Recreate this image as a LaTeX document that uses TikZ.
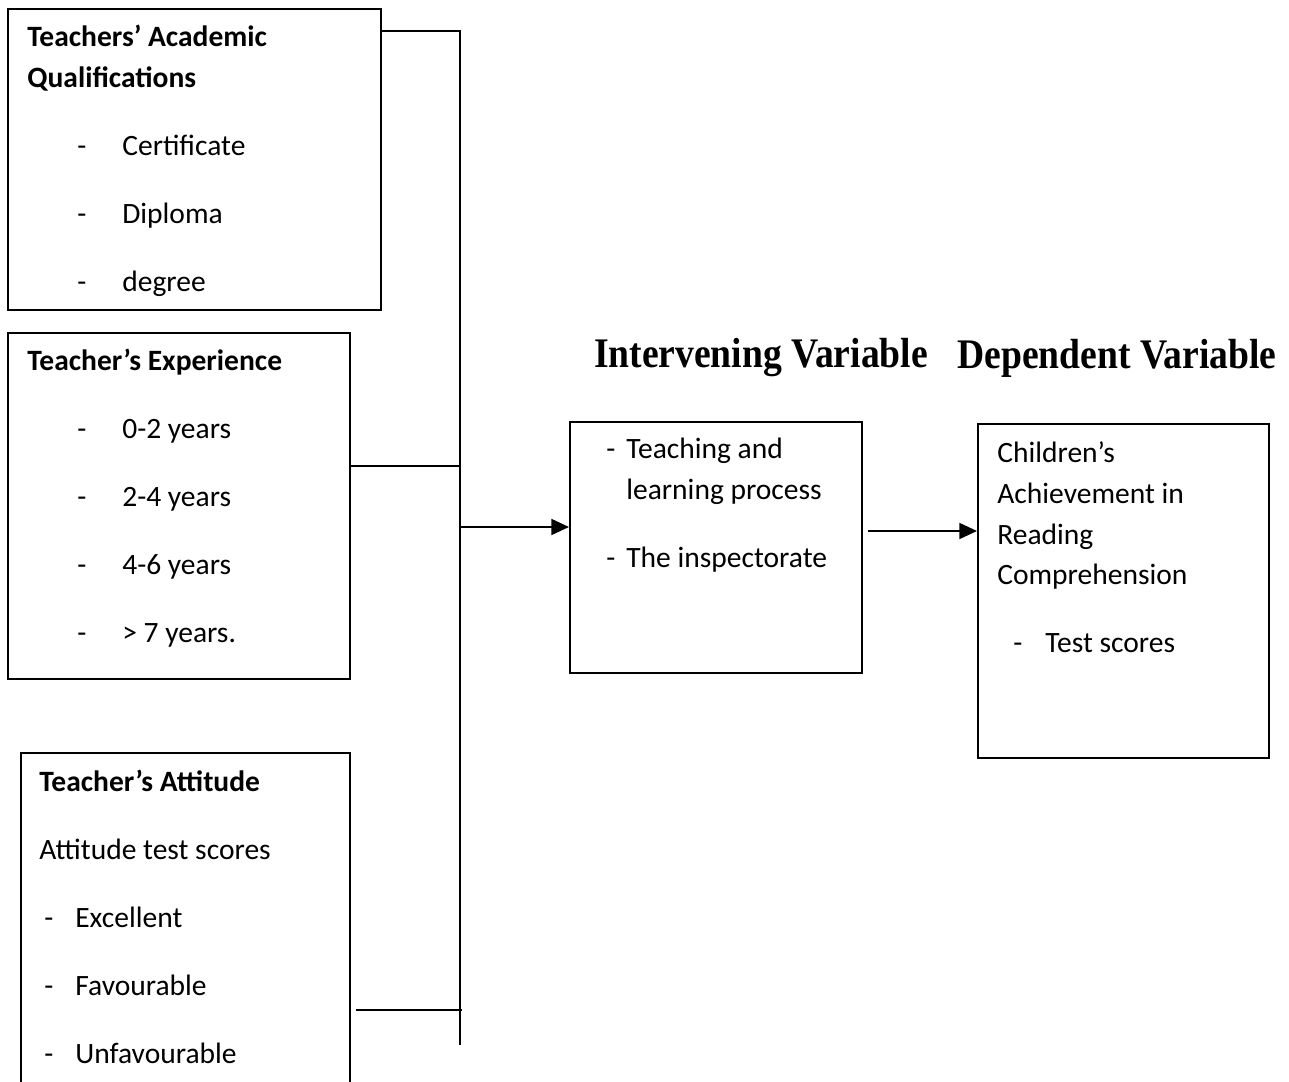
\documentclass[tikz,border=0pt]{standalone}
\usepackage{fontspec}
\setmainfont{Carlito}
\newfontfamily\headfont{Liberation Serif}
\usetikzlibrary{arrows.meta,positioning,calc}

\newcommand{\itm}[1]{\hspace*{1cm}\makebox[0.9cm][l]{-}#1}

\begin{document}
\begin{tikzpicture}[
        x=0.02cm, y=-0.02cm,
        every node/.style={font=\fontsize{16.8}{23.3}\selectfont},
        box/.style={rectangle, draw, line width=1.2pt, anchor=north west, inner sep=0pt},
        txt/.style={anchor=north west, align=left, inner sep=0pt},
        head/.style={font=\headfont\bfseries\fontsize{21.4}{25}\selectfont},
        arr/.style={-{Triangle[length=10pt,width=9pt]}, line width=1.2pt},
        link/.style={line width=1.2pt}
    ]
        \useasboundingbox (0,0) rectangle (1289,1082);

        % independent variables
        \node[box, minimum width=7.46cm, minimum height=6.02cm] (qual) at (7,8) {};
        \node[txt] (qualtxt) at (27,25) {\textbf{Teachers’ Academic}\\
            \textbf{Qualifications}\\[15.3pt]
            \itm{Certificate}\\[15.3pt]
            \itm{Diploma}\\[15.3pt]
            \itm{degree}};

        \node[box, minimum width=6.84cm, minimum height=6.92cm] (exper) at (7,332) {};
        \node[txt] (expertxt) at (27,349) {\textbf{Teacher’s Experience}\\[15.3pt]
            \itm{0-2 years}\\[15.3pt]
            \itm{2-4 years}\\[15.3pt]
            \itm{4-6 years}\\[15.3pt]
            \itm{> 7 years.}};

        \node[box, minimum width=6.58cm, minimum height=6.9cm] (attit) at (20,752) {};
        \node[txt] (attittxt) at (39,770) {\textbf{Teacher’s Attitude}\\[15.3pt]
            Attitude test scores\\[15.3pt]
            \hspace*{0.1cm}\makebox[0.62cm][l]{-}Excellent\\[15.3pt]
            \hspace*{0.1cm}\makebox[0.62cm][l]{-}Favourable\\[15.3pt]
            \hspace*{0.1cm}\makebox[0.62cm][l]{-}Unfavourable};

        % intervening and dependent variables
        \node[head] (intv) at (761,358) {\scalebox{1}[1.12]{Intervening Variable}};
        \node[head] (dep) at (1117,358) {\scalebox{1}[1.12]{Dependent Variable}};

        \node[box, minimum width=5.84cm, minimum height=5.02cm] (proc) at (569,421) {};
        \node[txt] (proctxt) at (606,438) {\makebox[0.4cm][l]{-}Teaching and\\
            \hspace*{0.4cm}learning process\\[15.3pt]
            \makebox[0.4cm][l]{-}The inspectorate};

        \node[box, minimum width=5.82cm, minimum height=6.68cm] (achv) at (977,423) {};
        \node[txt] (achvtxt) at (997,441) {Children’s\\
            Achievement in\\
            Reading\\
            Comprehension\\[15.3pt]
            \hspace*{0.32cm}\makebox[0.64cm][l]{-}Test scores};

        % connectors
        \coordinate (bustop) at (460,31);
        \coordinate (busbot) at (460,1045);
        \coordinate (jexp) at (460,466);
        \coordinate (jatt) at (462,1010);
        \coordinate (jout) at (460,527);
        \coordinate (jproc) at (868,531);

        \draw[link] (qual.east |- bustop) -- (bustop) -- (busbot);
        \draw[link] (exper.east |- jexp) -- (jexp);
        \draw[link] ([xshift=3pt]attit.east |- jatt) -- (jatt);
        \draw[arr] (jout) -- (proc.west |- jout);
        \draw[arr] (jproc) -- (achv.west |- jproc);
    \end{tikzpicture}
\end{document}
